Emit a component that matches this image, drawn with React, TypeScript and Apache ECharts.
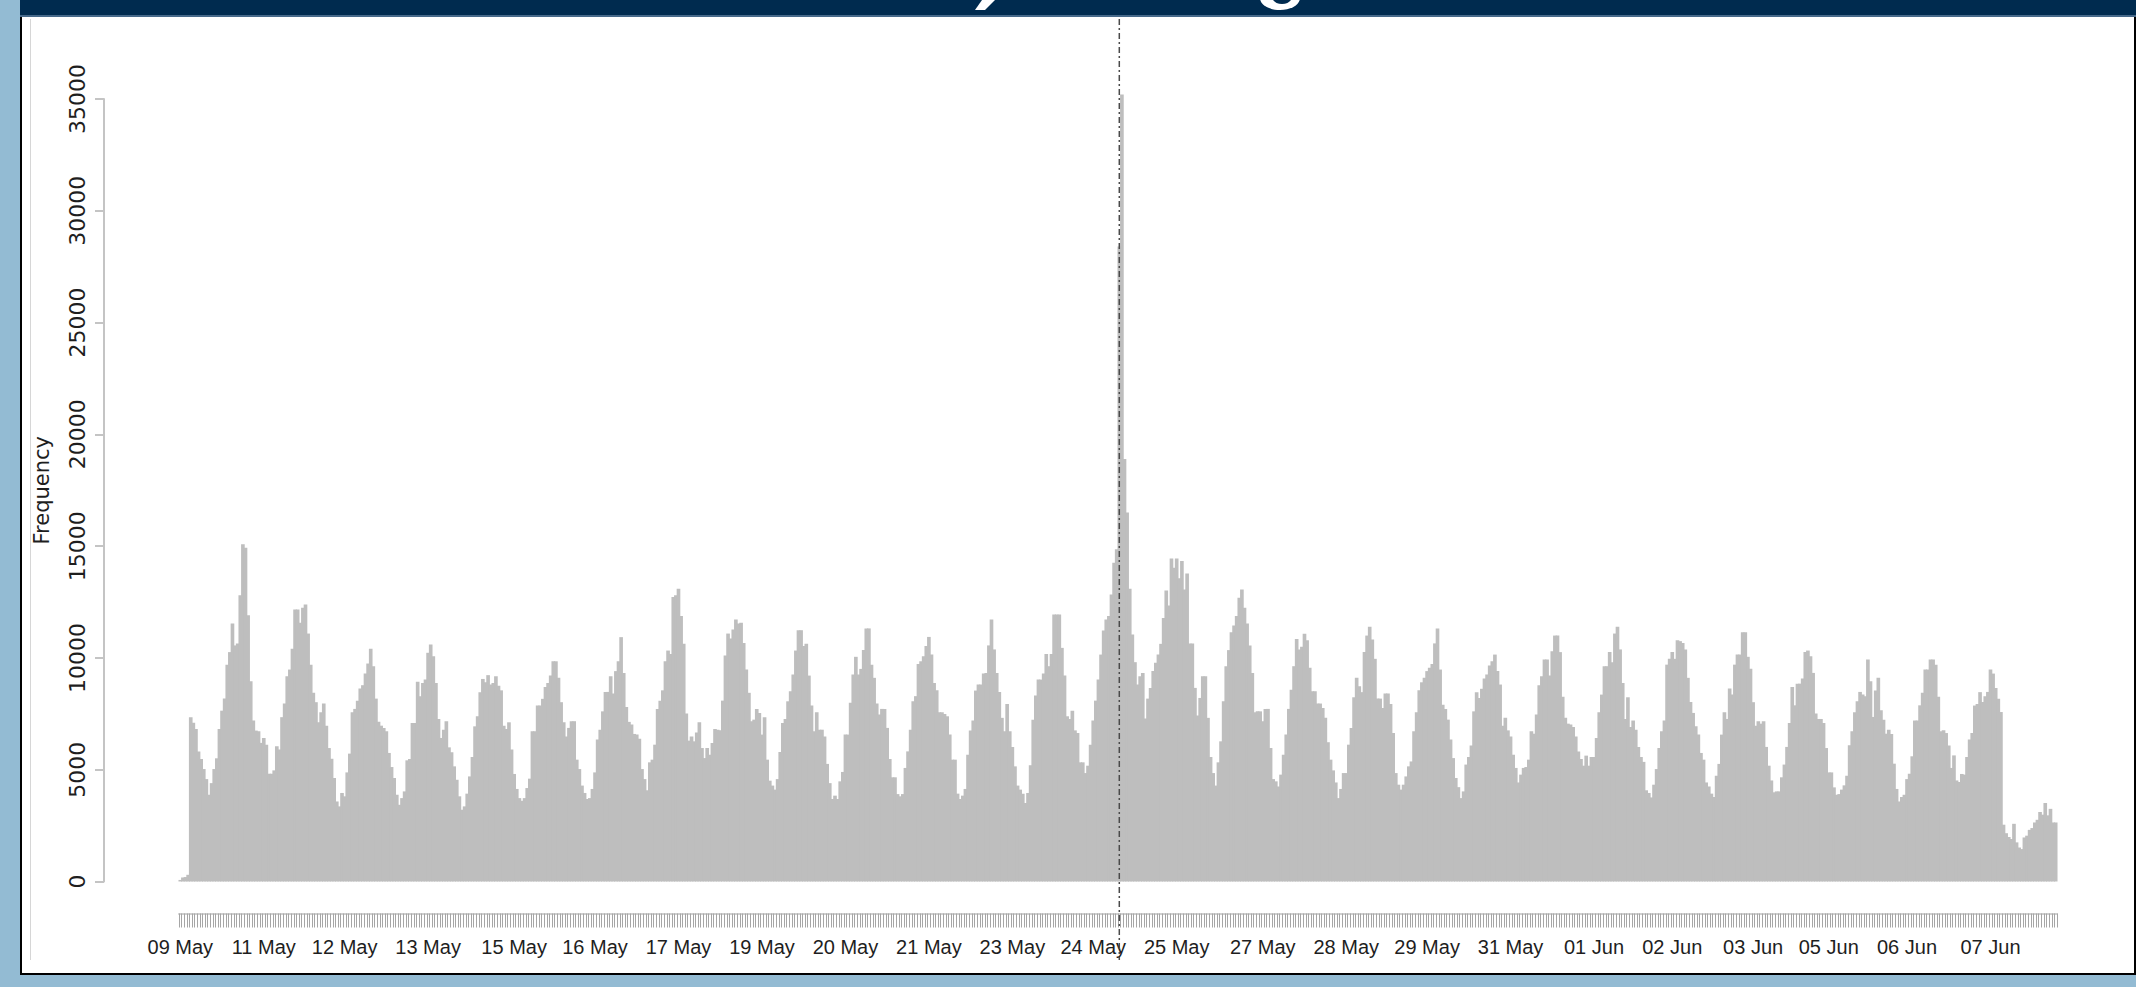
import React, { useEffect, useRef } from 'react';
import * as echarts from 'echarts';

// Hourly counts, 09 May 19:00 to 08 Jun 18:00 (720 hourly bins)
const countsMay09to16 = [
  70, 180, 200, 300, 7350, 7100, 6820, 5820, 5480, 5030,
  4580, 3880, 4400, 5030, 5510, 6820, 7640, 8180, 9700, 10260,
  11540, 10560, 10650, 12800, 15080, 14930, 11910, 8960, 7200, 6750,
  6720, 6200, 6420, 6120, 4820, 4820, 4970, 6050, 5900, 7350,
  7960, 9180, 9480, 10410, 12170, 12170, 11570, 12240, 12390, 11090,
  9700, 8440, 8020, 7120, 7570, 7960, 6970, 5970, 5490, 4630,
  3580, 3360, 3960, 3810, 4880, 5720, 7570, 7720, 8090, 8630,
  8780, 9300, 9750, 10410, 9630, 8180, 7140, 6970, 6870, 6720,
  5750, 5120, 4630, 3880, 3430, 3730, 4030, 5420, 5480, 7090,
  7090, 8930, 8290, 8880, 9030, 10230, 10600, 10080, 8880, 7270,
  6420, 6790, 7170, 6000, 5780, 5150, 4550, 3810, 3210, 3360,
  3930, 4700, 5570, 6940, 7390, 8470, 9060, 8910, 9230, 8810,
  8880, 9180, 8760, 8550, 6970, 6820, 7120, 5900, 4810, 4140,
  3730, 3610, 3730, 4180, 4600, 6720, 6720, 7870, 7870, 8170,
  8700, 8880, 9210, 9850, 9850, 9110, 8020, 7120, 6490, 6870,
  7170, 7170, 5450, 5030, 4290, 3960, 3690, 3730, 4140, 4880,
  6350, 6790, 7610, 8480, 8480, 9180, 8410, 9410, 9850, 10930,
  9330, 7810, 7140, 7020, 6600, 6570, 6390, 5030, 4580, 4080,
];

const countsMay16to24 = [
  5330, 5450, 6120, 7720, 8090, 8550, 9850, 10330, 10180, 12720,
  12800, 13090, 11870, 10630, 7510, 6300, 6490, 6270, 6670, 7120,
  5970, 5520, 5970, 5670, 6200, 6820, 6790, 6760, 8090, 10110,
  11090, 10870, 11270, 11720, 11540, 11570, 10670, 9480, 8440, 7170,
  7240, 7720, 7540, 6570, 7350, 5450, 4510, 4290, 4110, 4580,
  5790, 7090, 7270, 8060, 8510, 9260, 10330, 11240, 11240, 10530,
  10630, 9210, 7870, 6720, 7570, 6790, 6790, 6490, 5260, 4400,
  3690, 3840, 3690, 4480, 4900, 6570, 6570, 7990, 9260, 10050,
  9260, 9510, 10350, 11320, 11320, 9700, 9110, 7960, 7470, 7720,
  7720, 6870, 5480, 4660, 4660, 3910, 3810, 3910, 5080, 5820,
  6790, 8060, 8290, 9730, 9850, 10080, 10530, 10940, 10150, 8880,
  8550, 7570, 7570, 7490, 7390, 6570, 5450, 5450, 3930, 3690,
  3840, 4140, 5670, 6750, 7200, 8540, 8810, 8810, 9300, 9330,
  10560, 11720, 10380, 9330, 8480, 7320, 6720, 7940, 6720, 6020,
  5150, 4290, 4110, 3930, 3510, 3960, 5200, 7240, 8320, 9030,
  9030, 9300, 10180, 9630, 10180, 11940, 11940, 11940, 10450, 9210,
  7390, 7270, 7640, 6760, 6640, 5330, 5330, 4850, 5180, 6120,
  7200, 8090, 9030, 10150, 11230, 11720, 11870, 12840, 14260, 14860,
];

const countsSpike = [28400, 35200, 18900, 16500];

const countsMay25toJun01 = [
  13090, 11050, 9810, 8810, 9180, 9330, 7290, 8180, 8660,
  9410, 9780, 10150, 10630, 11790, 13020, 12350, 14450, 14030, 14450,
  13560, 14330, 13060, 13780, 10650, 10650, 8660, 7420, 8210,
  9180, 9180, 7320, 5570, 4850, 4290, 5330, 6270, 8060, 9630,
  10350, 11150, 11450, 11870, 12690, 13060, 12240, 11540, 10560,
  9330, 7570, 7610, 7610, 7170, 7720, 7720, 5970, 4580, 4480,
  4250, 4780, 5670, 6570, 7720, 8580, 9630, 10850, 10380,
  10500, 11080, 10790, 9560, 8510, 8510, 7960, 7960, 7760, 7320,
  6230, 5450, 4970, 4430, 3730, 4140, 4850, 4850, 6120, 6870,
  8240, 9110, 8730, 8470, 10260, 11000, 11390, 10820, 9960,
  8180, 8180, 7760, 8410, 8410, 7940, 6640, 4850, 4330, 4110,
  4330, 4700, 5150, 5370, 6720, 7570, 8550, 8910, 9110, 9410,
  9560, 9730, 10650, 11320, 9480, 7910, 7720, 7240,
  6350, 5520, 4630, 4220, 3730, 4030, 5230, 5570, 6080, 7610,
  8470, 8210, 8620, 9080, 9260, 9660, 9850, 10150, 9410,
  8810, 6970, 7320, 6760, 6490, 5670, 5080, 4430, 4780, 5080,
  5120, 5450, 6720, 6610, 7470, 8780, 9180, 9930, 9930, 9210,
  10300, 11000, 11000, 10260, 8260, 7320, 7060, 7020, 6910, 6490,
  5820, 5480, 5180, 5630, 5180, 5570,
];

const countsJun01to08 = [
  5570, 6420, 7570, 8360, 9630, 9630, 10260, 9810,
  11090, 11390, 10380, 8880, 7270, 8240, 6910, 7200, 6790, 6020,
  5570, 5350, 4080, 3960, 3760, 4330, 5030, 5970, 6720, 7200,
  9700, 9960, 10260, 9960, 10790, 10750, 10670, 10380, 9110, 8030,
  7540, 6940, 6570, 5750, 5450, 4430, 4250, 3930, 3780,
  4730, 5260, 6570, 7570, 7270, 8630, 8360, 9700, 10150, 10150,
  11150, 11150, 10050, 9520, 8020, 6970, 7170, 7060, 7170, 6020,
  5180, 4520, 3990, 4030, 4030, 4660, 5230, 6020, 7090, 8700,
  7880, 8850, 8850, 9080, 10260, 10330, 10080, 9330, 7510, 7270,
  7270, 7090, 5970, 4880, 4880, 4210, 3880, 3910, 4110,
  4300, 4730, 6090, 6720, 7570, 8060, 8480, 8360, 8290, 9930,
  8960, 7360, 8540, 9110, 7660, 7240, 6610, 6790, 6600,
  5270, 4140, 3580, 3780, 3880, 4580, 4820, 5600, 7200,
  7200, 7880, 8440, 9480, 9480, 9930, 9930, 9700, 8260,
  6720, 6760, 6640, 6080, 5080, 5640, 4520, 4450, 4810,
  4780, 5570, 6350, 6640, 7870, 7940, 8470, 8030, 8290, 8480,
  9480, 9300, 8660, 8170, 7580, 2540, 2160, 1990, 1900,
  2580, 1750, 1520, 1450, 1970, 2050, 2310, 2390, 2640,
  2760, 3110, 2990, 3510, 2960, 3250, 2640, 2640,
];

const hourlyCounts = [
  ...countsMay09to16,
  ...countsMay16to24,
  ...countsSpike,
  ...countsMay25toJun01,
  ...countsJun01to08,
];

// x-axis tick labels and the hourly bin each one sits under
const tickLabels = [
  '09 May', '11 May', '12 May', '13 May', '15 May', '16 May', '17 May', '19 May',
  '20 May', '21 May', '23 May', '24 May', '25 May', '27 May', '28 May', '29 May',
  '31 May', '01 Jun', '02 Jun', '03 Jun', '05 Jun', '06 Jun', '07 Jun',
];
const tickHours = [0, 32, 63, 95, 128, 159, 191, 223, 255, 287, 319, 350, 382, 415, 447, 478, 510, 542, 572, 603, 632, 662, 694];

const yTicks = [0, 5000, 10000, 15000, 20000, 25000, 30000, 35000];

const eventHour = 360; // 24 May 19:00

function hourName(i: number): string {
  const h = 19 + i;
  let day = 9 + Math.floor(h / 24);
  let mon = 'May';
  if (day > 31) {
    day -= 31;
    mon = 'Jun';
  }
  const hh = h % 24;
  return `${String(day).padStart(2, '0')} ${mon} ${String(hh).padStart(2, '0')}:00`;
}

const hourNames = hourlyCounts.map((_, i) => hourName(i));
const tickText = new Map<number, string>(tickHours.map((h, k) => [h, tickLabels[k]]));

const NAVY = '#002b4f';

export default function App() {
  const ref = useRef<HTMLDivElement>(null);

  useEffect(() => {
    document.body.style.margin = '0';
    if (!ref.current) return;
    const chart = echarts.init(ref.current, undefined, { renderer: 'svg' });

    const option: any = {
      animation: false,
      backgroundColor: 'transparent',
      grid: { left: 179, right: 79, top: 99, bottom: 105.5, containLabel: false },
      xAxis: {
        type: 'category',
        data: hourNames,
        boundaryGap: true,
        offset: 32,
        axisLine: { show: true, onZero: false, lineStyle: { color: '#cfcfcf', width: 2 } },
        axisTick: {
          show: true,
          interval: 0,
          length: 14,
          lineStyle: { color: '#a6a6a6', width: 1 },
        },
        axisLabel: {
          interval: (index: number) => tickText.has(index),
          formatter: (_v: string, index: number) => tickText.get(index) ?? '',
          margin: 23,
          color: '#1e1e1e',
          fontFamily: "'Liberation Sans', Arial, sans-serif",
          fontSize: 20,
        },
        splitLine: { show: false },
      },
      yAxis: {
        type: 'value',
        min: yTicks[0],
        max: yTicks[yTicks.length - 1],
        interval: yTicks[1] - yTicks[0],
        offset: 75,
        name: 'Frequency',
        nameLocation: 'middle',
        nameRotate: 90,
        nameGap: 52,
        nameTextStyle: {
          color: '#1e1e1e',
          fontFamily: "'DejaVu Sans', sans-serif",
          fontSize: 21,
        },
        axisLine: { show: true, onZero: false, lineStyle: { color: '#c4c4c4', width: 2 } },
        axisTick: { show: true, length: 9, lineStyle: { color: '#c4c4c4', width: 2 } },
        axisLabel: {
          rotate: 90,
          margin: 16,
          color: '#1e1e1e',
          fontFamily: "'DejaVu Sans', sans-serif",
          fontSize: 22,
          formatter: (v: number) => String(v),
        },
        splitLine: { show: false },
      },
      series: [
        {
          type: 'bar',
          data: hourlyCounts,
          barWidth: '140%',
          barGap: '-100%',
          clip: false,
          silent: true,
          itemStyle: { color: '#bebebe' },
        },
      ],
    };

    chart.setOption(option);

    const ex = chart.convertToPixel({ xAxisIndex: 0 }, hourNames[eventHour]) as number;
    chart.setOption({
      graphic: [
        {
          id: 'eventLine',
          type: 'line',
          z: 100,
          silent: true,
          shape: { x1: ex, y1: 19, x2: ex, y2: 960 },
          style: { stroke: '#4a4a4a', lineWidth: 1.5, lineDash: [6, 3, 2, 3] },
        },
        {
          id: 'titleTailY',
          type: 'polygon',
          z: 100,
          silent: true,
          shape: { points: [[982, 0], [995, 0], [985, 10], [975, 10]] },
          style: { fill: '#ffffff' },
        },
        {
          id: 'titleTailG',
          type: 'ellipse',
          z: 100,
          silent: true,
          shape: { cx: 1280, cy: -2, rx: 20, ry: 12 },
          style: { fill: '#ffffff' },
        },
        {
          id: 'titleTailGHole',
          type: 'ellipse',
          z: 101,
          silent: true,
          shape: { cx: 1282, cy: -3, rx: 10, ry: 7 },
          style: { fill: NAVY },
        },
      ],
    });

    return () => chart.dispose();
  }, []);

  return (
    <div
      style={{
        position: 'fixed',
        left: 0,
        top: 0,
        width: 2136,
        height: 987,
        background: '#93bbd3',
        overflow: 'hidden',
      }}
    >
      <div style={{ position: 'absolute', left: 20, top: 0, width: 2116, height: 15, background: NAVY }} />
      <div style={{ position: 'absolute', left: 20, top: 15, width: 2116, height: 2, background: '#46698a' }} />
      <div
        style={{
          position: 'absolute',
          left: 20,
          top: 17,
          width: 2116,
          height: 958,
          background: '#ffffff',
          borderLeft: '2px solid #000',
          borderRight: '2px solid #000',
          borderBottom: '2px solid #000',
          boxSizing: 'border-box',
        }}
      />
      <div style={{ position: 'absolute', left: 30, top: 19, width: 1, height: 941, background: '#d6d6d6' }} />
      <div ref={ref} style={{ position: 'absolute', left: 0, top: 0, width: 2136, height: 987 }} />
    </div>
  );
}
